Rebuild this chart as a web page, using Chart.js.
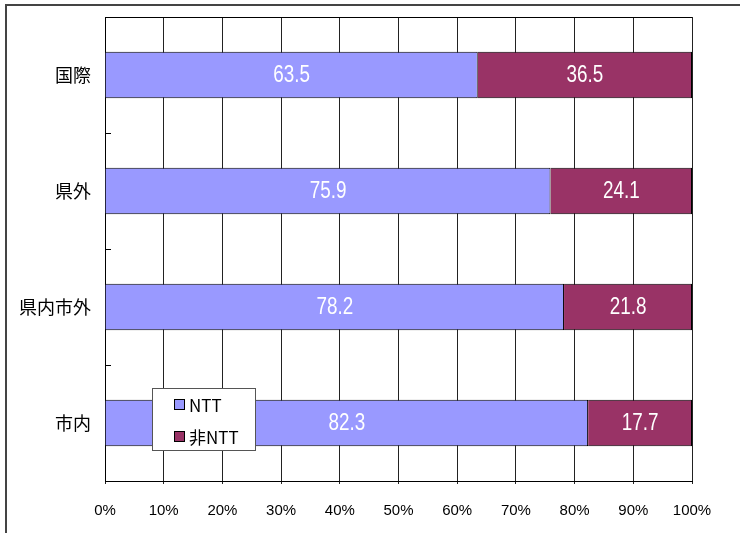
<!DOCTYPE html>
<html><head><meta charset="utf-8">
<script src="https://cdn.jsdelivr.net/npm/chart.js@4/dist/chart.umd.min.js"></script>
<style>html,body{margin:0;padding:0;background:#fff;}#wrap{width:740px;height:533px;position:relative;}</style>
</head><body><div id="wrap"><canvas id="c" width="740" height="533"></canvas></div>
<script>
const categories = ['国際', '県外', '県内市外', '市内'];
const nttValues = [63.5, 75.9, 78.2, 82.3];
const nonNttValues = [36.5, 24.1, 21.8, 17.7];
const seriesNames = ['NTT', '非NTT'];
const seriesColors = ['#9999FF', '#993366'];

const NARROW = "'Liberation Sans Narrow', 'Arial Narrow', 'Liberation Sans', sans-serif";

const framePlugin = {
  id: 'frame',
  beforeDraw(chart) {
    const ctx = chart.ctx;
    ctx.save();
    ctx.fillStyle = '#fff';
    ctx.fillRect(0, 0, chart.width, chart.height);
    ctx.strokeStyle = '#444';
    ctx.lineWidth = 2;
    ctx.beginPath();
    ctx.moveTo(6, 533); ctx.lineTo(6, 5); ctx.lineTo(740, 5);
    ctx.stroke();
    ctx.restore();
  },
  afterDraw(chart) {
    const ctx = chart.ctx, a = chart.chartArea, ys = chart.scales.y;
    ctx.save();
    ctx.strokeStyle = '#000';
    ctx.lineWidth = 1;
    ctx.beginPath();
    ctx.moveTo(a.left, Math.round(a.top) + 0.5); ctx.lineTo(a.right, Math.round(a.top) + 0.5);
    for (let i = 1; i < categories.length; i++) {
      const y = Math.round((ys.getPixelForTick(i - 1) + ys.getPixelForTick(i)) / 2) + 0.5;
      ctx.moveTo(a.left, y); ctx.lineTo(a.left + 6, y);
    }
    ctx.stroke();
    ctx.restore();
  }
};

const labelPlugin = {
  id: 'vlabels',
  afterDatasetsDraw(chart) {
    const ctx = chart.ctx;
    ctx.save();
    ctx.fillStyle = '#fff';
    ctx.textAlign = 'center';
    ctx.textBaseline = 'middle';
    ctx.font = "23px 'Liberation Sans'";
    chart.data.datasets.forEach((ds, di) => {
      chart.getDatasetMeta(di).data.forEach((el, i) => {
        const cx = (el.x + el.base) / 2;
        ctx.save();
        ctx.translate(cx, el.y + 1);
        ctx.scale(0.82, 1);
        ctx.fillText(ds.data[i].toFixed(1), 0, 0);
        ctx.restore();
      });
    });
    ctx.restore();
  }
};

const legendPlugin = {
  id: 'boxLegend',
  afterDraw(chart) {
    const ctx = chart.ctx;
    const x = 152, y = 388, w = 103, h = 62;
    ctx.save();
    ctx.fillStyle = '#fff';
    ctx.fillRect(x, y, w, h);
    ctx.strokeStyle = '#555';
    ctx.lineWidth = 1;
    ctx.strokeRect(x + 0.5, y + 0.5, w, h);
    ctx.font = "17px 'Noto Sans CJK JP'";
    ctx.textBaseline = 'middle';
    chart.data.datasets.forEach((ds, i) => {
      const cy = y + 17 + i * 32;
      ctx.fillStyle = ds.backgroundColor;
      ctx.fillRect(174, cy - 5, 10, 10);
      ctx.strokeStyle = '#000';
      ctx.strokeRect(174.5, cy - 5.5, 10, 10);
      ctx.fillStyle = '#000';
      ctx.fillText(ds.label, 189, cy + 1);
    });
    ctx.restore();
  }
};

new Chart(document.getElementById('c'), {
  type: 'bar',
  data: {
    labels: categories,
    datasets: [
      { label: seriesNames[0], data: nttValues, backgroundColor: seriesColors[0], borderColor: '#000', borderWidth: 1, barPercentage: 0.4, categoryPercentage: 1 },
      { label: seriesNames[1], data: nonNttValues, backgroundColor: seriesColors[1], borderColor: '#000', borderWidth: 1, barPercentage: 0.4, categoryPercentage: 1 }
    ]
  },
  options: {
    indexAxis: 'y',
    responsive: false,
    animation: false,
    devicePixelRatio: 1,
    layout: { padding: { left: 0, top: 17, right: 48, bottom: 0 } },
    plugins: { legend: { display: false }, tooltip: { enabled: false } },
    scales: {
      x: {
        stacked: true, min: 0, max: 100,
        ticks: { stepSize: 10, callback: v => v + '%', color: '#000', font: { family: NARROW, size: 15 }, padding: 18, maxRotation: 0 },
        grid: { color: '#222', lineWidth: 1, tickLength: 3, drawTicks: true },
        border: { color: '#000', width: 1 },
        afterFit(s) { s.height = 52; }
      },
      y: {
        stacked: true, offset: true,
        ticks: { color: '#000', font: { family: "'Noto Sans CJK JP'", size: 18 }, padding: 6 },
        grid: { display: false },
        border: { color: '#000', width: 1 },
        afterFit(s) { s.width = 105; s.paddingTop = 0; s.paddingBottom = 0; }
      }
    }
  },
  plugins: [framePlugin, labelPlugin, legendPlugin]
});
</script></body></html>
